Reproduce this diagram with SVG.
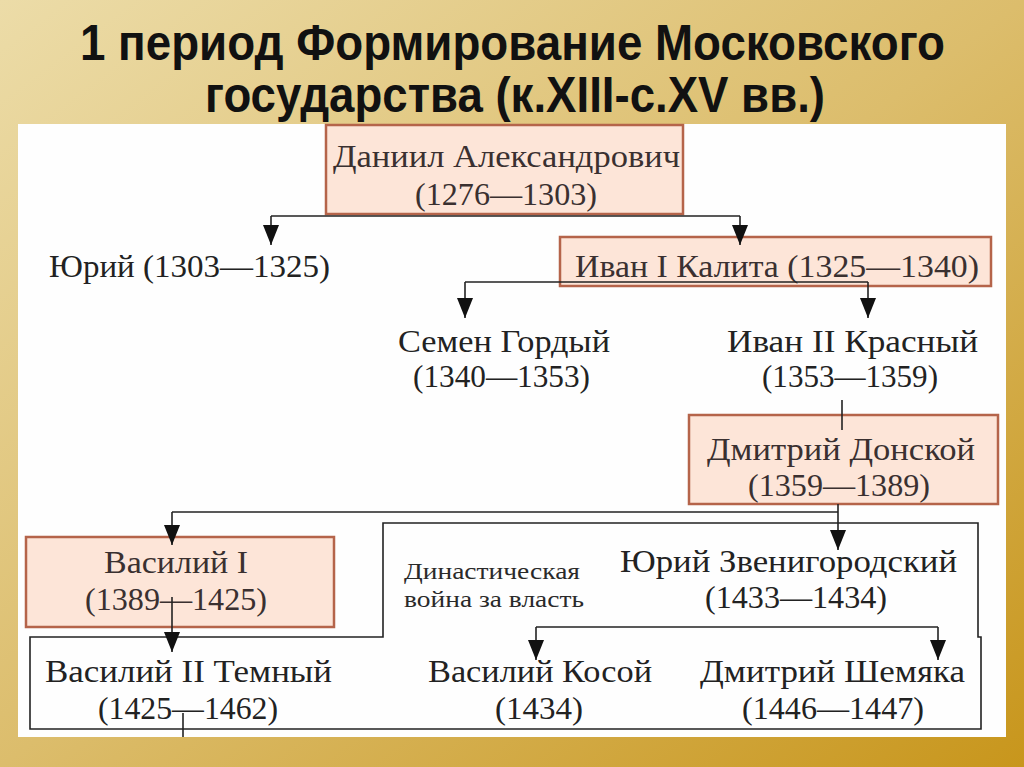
<svg xmlns="http://www.w3.org/2000/svg" width="1024" height="767" viewBox="0 0 1024 767">
<defs>
<linearGradient id="bg" x1="0" y1="0" x2="1" y2="1">
<stop offset="0" stop-color="#ecdca8"/>
<stop offset="0.5" stop-color="#dcbd6c"/>
<stop offset="1" stop-color="#c8961c"/>
</linearGradient>
<marker id="arr" viewBox="0 0 20 16" refX="20" refY="8" markerWidth="20" markerHeight="16" markerUnits="userSpaceOnUse" orient="auto">
<path d="M0,0 L20,8 L0,16 Z" fill="#111"/>
</marker>
<style>
.box{fill:#fde5d8;stroke:#b5644a;stroke-width:2.5}
.t{font-family:"Liberation Serif","Times New Roman",serif;font-size:32px;fill:#222}
.bt{fill:#3a3030}
.s{font-family:"Liberation Serif","Times New Roman",serif;font-size:23px;fill:#2a2a2a}
.title{font-family:"Liberation Sans",Arial,sans-serif;font-weight:bold;font-size:40px;fill:#111}
.c{fill:none;stroke:#222;stroke-width:1.6}
</style>
</defs>
<rect width="1024" height="767" fill="url(#bg)"/>
<rect x="18" y="124" width="988" height="613" fill="#fefefe"/>
<g id="title">
<text class="title" transform="translate(80,60) scale(1,1.25)" x="0" y="0" textLength="865" lengthAdjust="spacingAndGlyphs">1 период Формирование Московского</text>
<text class="title" transform="translate(205,112) scale(1,1.25)" x="0" y="0" textLength="620" lengthAdjust="spacingAndGlyphs">государства (к.XIII-с.XV вв.)</text>
</g>
<g id="daniil">
<rect class="box" x="326" y="125" width="357" height="89"/>
<text class="t bt" x="333" y="167" textLength="347" lengthAdjust="spacingAndGlyphs">Даниил Александрович</text>
<text class="t bt" x="415" y="205" textLength="182" lengthAdjust="spacingAndGlyphs">(1276—1303)</text>
</g>
<g id="yuri">
<text class="t" x="49" y="277" textLength="281" lengthAdjust="spacingAndGlyphs">Юрий (1303—1325)</text>
</g>
<g id="ivan1">
<rect class="box" x="560" y="237" width="431" height="49"/>
<text class="t bt" x="575" y="277" textLength="404" lengthAdjust="spacingAndGlyphs">Иван I Калита (1325—1340)</text>
</g>
<g id="semen">
<text class="t" x="398" y="352" textLength="212" lengthAdjust="spacingAndGlyphs">Семен Гордый</text>
<text class="t" x="413" y="387" textLength="177" lengthAdjust="spacingAndGlyphs">(1340—1353)</text>
</g>
<g id="ivan2">
<text class="t" x="727" y="352" textLength="251" lengthAdjust="spacingAndGlyphs">Иван II Красный</text>
<text class="t" x="762" y="387" textLength="176" lengthAdjust="spacingAndGlyphs">(1353—1359)</text>
</g>
<g id="donskoy">
<rect class="box" x="689" y="415" width="309" height="89"/>
<text class="t bt" x="707" y="460" textLength="268" lengthAdjust="spacingAndGlyphs">Дмитрий Донской</text>
<text class="t bt" x="748" y="496" textLength="182" lengthAdjust="spacingAndGlyphs">(1359—1389)</text>
</g>
<g id="vasily1">
<rect class="box" x="26" y="537" width="308" height="90"/>
<text class="t bt" x="104" y="573" textLength="144" lengthAdjust="spacingAndGlyphs">Василий I</text>
<text class="t bt" x="85" y="610" textLength="182" lengthAdjust="spacingAndGlyphs">(1389—1425)</text>
</g>
<g id="dynastic-war">
<text class="s" x="404" y="579" textLength="176" lengthAdjust="spacingAndGlyphs">Династическая</text>
<text class="s" x="404" y="607" textLength="180" lengthAdjust="spacingAndGlyphs">война за власть</text>
</g>
<g id="yuri-zv">
<text class="t" x="620" y="572" textLength="337" lengthAdjust="spacingAndGlyphs">Юрий Звенигородский</text>
<text class="t" x="705" y="608" textLength="182" lengthAdjust="spacingAndGlyphs">(1433—1434)</text>
</g>
<g id="vasily2">
<text class="t" x="45" y="682" textLength="287" lengthAdjust="spacingAndGlyphs">Василий II Темный</text>
<text class="t" x="98" y="719" textLength="180" lengthAdjust="spacingAndGlyphs">(1425—1462)</text>
</g>
<g id="kosoy">
<text class="t" x="428" y="682" textLength="224" lengthAdjust="spacingAndGlyphs">Василий Косой</text>
<text class="t" x="495" y="719" textLength="88" lengthAdjust="spacingAndGlyphs">(1434)</text>
</g>
<g id="shemyaka">
<text class="t" x="700" y="682" textLength="265" lengthAdjust="spacingAndGlyphs">Дмитрий Шемяка</text>
<text class="t" x="742" y="719" textLength="182" lengthAdjust="spacingAndGlyphs">(1446—1447)</text>
</g>
<g id="connectors">
<path class="c" d="M271,216 H740"/>
<path class="c" d="M271,216 V245" marker-end="url(#arr)"/>
<path class="c" d="M740,216 V245" marker-end="url(#arr)"/>
<path class="c" d="M465,282 H868"/>
<path class="c" d="M465,282 V318" marker-end="url(#arr)"/>
<path class="c" d="M868,282 V318" marker-end="url(#arr)"/>
<path class="c" d="M842,400 V430"/>
<path class="c" d="M172,512 H838"/>
<path class="c" d="M838,504 V550" marker-end="url(#arr)"/>
<path class="c" d="M172,512 V545" marker-end="url(#arr)"/>
<path class="c" d="M383,523 H978 V637 H981 V729 H30 V637 H383 Z"/>
<path class="c" d="M172,597 V652" marker-end="url(#arr)"/>
<path class="c" d="M183,713 V737"/>
<path class="c" d="M536,627 H938"/>
<path class="c" d="M536,627 V660" marker-end="url(#arr)"/>
<path class="c" d="M938,627 V660" marker-end="url(#arr)"/>
</g>
</svg>
